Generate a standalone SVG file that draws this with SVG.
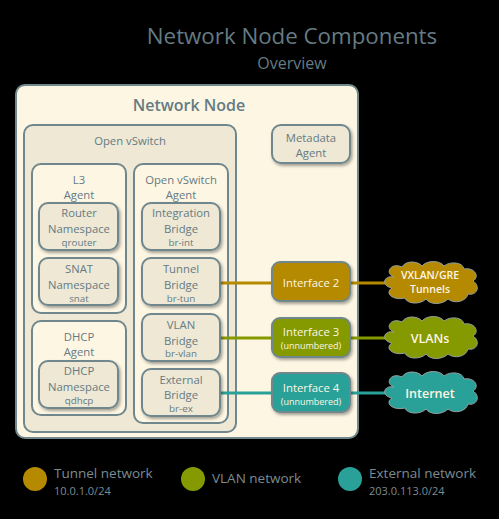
<svg xmlns="http://www.w3.org/2000/svg" width="499" height="519" viewBox="0 0 499 519">
<style>
text{font-family:"Open Sans","Noto Sans","DejaVu Sans",sans-serif;fill:#657b83;text-anchor:middle;font-size:11.3px}
.box{stroke:#6f878d;stroke-width:2}
.cream{fill:#fdf6e3}
.beige{fill:#eee8d5}
.sm{font-size:9.8px}
.tiny{font-size:9px}
.w{fill:#fdf6e3}
.cl{stroke:#93a1a1;stroke-width:1}
.lg{text-anchor:start;fill:#7b8c91;font-size:13.5px}
.lgs{text-anchor:start;fill:#7b8c91;font-size:11px}
.wire{stroke-width:3;fill:none}
</style>
<defs>
<filter id="sh" x="-20%" y="-20%" width="150%" height="150%">
<feDropShadow dx="1.5" dy="2" stdDeviation="1.5" flood-color="#000" flood-opacity="0.35"/>
</filter>
<path id="cloud" d="M -36,-6 C -46,-10 -39,-21 -28,-16 C -24,-23 -12,-22 -8,-17 C -3,-23 10,-23 14,-17 C 20,-22 33,-21 34,-14 C 45,-16 50,-6 43,-2 C 51,3 47,13 38,11 C 36,19 24,21 18,16 C 12,22 0,22 -4,16 C -10,22 -23,21 -25,15 C -37,18 -46,10 -38,5 C -49,3 -47,-8 -36,-6 Z"/>
</defs>
<rect width="499" height="519" fill="#000"/>
<g id="title">
<text x="292" y="44" style="font-size:22.3px">Network Node Components</text>
<text x="292" y="69" style="font-size:16px">Overview</text>
</g>
<g id="network-node">
<rect class="box cream" x="16" y="85" width="342" height="353" rx="9"/>
<text x="189" y="111" style="font-size:16px;font-weight:600">Network Node</text>
</g>
<g id="open-vswitch">
<rect class="box beige" x="24" y="125" width="212" height="307" rx="9"/>
<text x="130" y="145">Open vSwitch</text>
</g>
<g id="l3-agent">
<rect class="box cream" x="32" y="164" width="94" height="149" rx="9"/>
<text x="79" y="184">L3</text>
<text x="79" y="199">Agent</text>
</g>
<g id="router-namespace">
<rect class="box beige" x="39" y="203" width="79" height="47" rx="9" filter="url(#sh)"/>
<text x="79" y="217">Router</text>
<text x="79" y="233">Namespace</text>
<text x="79" y="245.5" class="sm">qrouter</text>
</g>
<g id="snat-namespace">
<rect class="box beige" x="39" y="258" width="79" height="47" rx="9" filter="url(#sh)"/>
<text x="79" y="273">SNAT</text>
<text x="79" y="289">Namespace</text>
<text x="79" y="301.5" class="sm">snat</text>
</g>
<g id="dhcp-agent">
<rect class="box cream" x="32" y="321" width="94" height="94" rx="9"/>
<text x="79" y="341">DHCP</text>
<text x="79" y="356">Agent</text>
</g>
<g id="dhcp-namespace">
<rect class="box beige" x="39" y="361" width="79" height="47" rx="9" filter="url(#sh)"/>
<text x="79" y="375">DHCP</text>
<text x="79" y="391">Namespace</text>
<text x="79" y="403.5" class="sm">qdhcp</text>
</g>
<g id="ovs-agent">
<rect class="box cream" x="134" y="164" width="94" height="259" rx="9"/>
<text x="181" y="184">Open vSwitch</text>
<text x="181" y="199">Agent</text>
</g>
<g id="br-int">
<rect class="box beige" x="142" y="203" width="78" height="47" rx="9" filter="url(#sh)"/>
<text x="181" y="217">Integration</text>
<text x="181" y="233">Bridge</text>
<text x="181" y="245.5" class="sm">br-int</text>
</g>
<g id="connectors">
<path class="wire" stroke="#b58900" d="M220,283 H272 M350,283 H388"/>
<path class="wire" stroke="#859900" d="M220,338 H272 M350,338 H388"/>
<path class="wire" stroke="#2aa198" d="M220,393 H272 M350,393 H388"/>
</g>
<g id="br-tun">
<rect class="box beige" x="142" y="258" width="78" height="47" rx="9" filter="url(#sh)"/>
<text x="181" y="273">Tunnel</text>
<text x="181" y="289">Bridge</text>
<text x="181" y="301.5" class="sm">br-tun</text>
</g>
<g id="br-vlan">
<rect class="box beige" x="142" y="314" width="78" height="47" rx="9" filter="url(#sh)"/>
<text x="181" y="329">VLAN</text>
<text x="181" y="344.5">Bridge</text>
<text x="181" y="356.5" class="sm">br-vlan</text>
</g>
<g id="br-ex">
<rect class="box beige" x="142" y="369" width="78" height="47" rx="9" filter="url(#sh)"/>
<text x="181" y="383.5">External</text>
<text x="181" y="399">Bridge</text>
<text x="181" y="411.5" class="sm">br-ex</text>
</g>
<g id="metadata-agent">
<rect class="box beige" x="272" y="125" width="78" height="38" rx="9" filter="url(#sh)"/>
<text x="311" y="142">Metadata</text>
<text x="311" y="157">Agent</text>
</g>
<g id="interface-2">
<rect class="box" fill="#b58900" x="272" y="262" width="78" height="39" rx="8" filter="url(#sh)"/>
<text x="311" y="287" class="w">Interface 2</text>
</g>
<g id="interface-3">
<rect class="box" fill="#859900" x="272" y="318" width="78" height="39" rx="8" filter="url(#sh)"/>
<text x="311" y="336" class="w">Interface 3</text>
<text x="311" y="348.5" class="w tiny">(unnumbered)</text>
</g>
<g id="interface-4">
<rect class="box" fill="#2aa198" x="272" y="373" width="78" height="39" rx="8" filter="url(#sh)"/>
<text x="311" y="392" class="w">Interface 4</text>
<text x="311" y="404.5" class="w tiny">(unnumbered)</text>
</g>
<g id="cloud-tunnels">
<use href="#cloud" class="cl" fill="#b58900" transform="translate(430,283)"/>
<text x="430" y="278.5" class="w" style="font-size:10.5px;font-weight:600">VXLAN/GRE</text>
<text x="430" y="292.5" class="w" style="font-size:10.5px;font-weight:600">Tunnels</text>
</g>
<g id="cloud-vlans">
<use href="#cloud" class="cl" fill="#859900" transform="translate(430,338)"/>
<text x="430" y="343" class="w" style="font-size:12.5px;font-weight:600">VLANs</text>
</g>
<g id="cloud-internet">
<use href="#cloud" class="cl" fill="#2aa198" transform="translate(430,393)"/>
<text x="430" y="398" class="w" style="font-size:12.5px;font-weight:600">Internet</text>
</g>
<g id="legend">
<circle cx="35" cy="479" r="12" fill="#b58900"/>
<text x="54" y="478" class="lg">Tunnel network</text>
<text x="54" y="495" class="lgs">10.0.1.0/24</text>
<circle cx="193" cy="479" r="12" fill="#859900"/>
<text x="212" y="483" class="lg">VLAN network</text>
<circle cx="350" cy="479" r="12" fill="#2aa198"/>
<text x="369" y="478" class="lg">External network</text>
<text x="369" y="495" class="lgs">203.0.113.0/24</text>
</g>
</svg>
